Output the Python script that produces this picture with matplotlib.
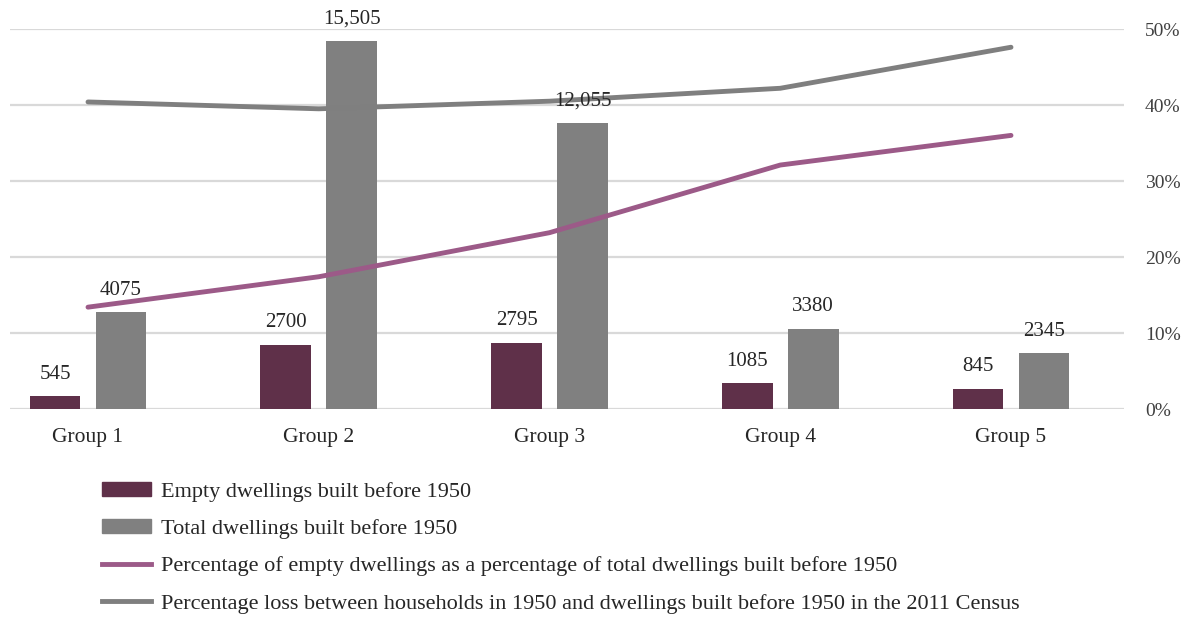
import matplotlib
matplotlib.use("Agg")
import matplotlib.pyplot as plt
from matplotlib.patches import Patch
from matplotlib.lines import Line2D
import numpy as np

plt.rcParams['font.family'] = ['Liberation Serif', 'DejaVu Serif']

groups = ["Group 1", "Group 2", "Group 3", "Group 4", "Group 5"]
empty = [545, 2700, 2795, 1085, 845]
total = [4075, 15505, 12055, 3380, 2345]
empty_labels = ["545", "2700", "2795", "1085", "845"]
total_labels = ["4075", "15,505", "12,055", "3380", "2345"]
pct_empty = [13.4, 17.4, 23.2, 32.1, 36.0]
pct_loss = [40.4, 39.5, 40.5, 42.2, 47.6]
pct_ticks = [0, 10, 20, 30, 40, 50]

c_empty = "#5f3049"
c_total = "#808080"
c_pink = "#9c5a88"
c_grayline = "#7f7f7f"
fs = 15.5
fs_num = 15

fig = plt.figure(figsize=(11.93, 6.2), dpi=100)
ax = fig.add_axes([10/1193, 1-409/620, (1124-10)/1193, 380/620])
x = np.arange(len(groups))
w = 0.22
off = 0.143
ax.set_ylim(0, 16000)
ax.set_yticks(np.linspace(0, 16000, 6))
ax.yaxis.grid(True, color="#d9d9d9", lw=1.6)
ax.set_axisbelow(True)
ax.tick_params(axis="y", length=0, labelleft=False)
ax.bar(x - off, empty, w, color=c_empty, zorder=2)
ax.bar(x + off, total, w, color=c_total, zorder=2)
ax.set_xlim(-78/230.75, (1124-88)/230.75)
ax.set_xticks(x)
ax.set_xticklabels(groups, fontsize=fs, color="#262626")
ax.tick_params(axis="x", length=0, pad=14)
for s in ax.spines.values():
    s.set_visible(False)

ax2 = ax.twinx()
ax2.set_ylim(0, 50)
ax2.set_yticks(pct_ticks)
ax2.set_yticklabels([f"{t}%" for t in pct_ticks], fontsize=14, color="#404040")
ax2.tick_params(axis="y", length=0, pad=15)
for s in ax2.spines.values():
    s.set_visible(False)
ax2.plot(x, pct_empty, color=c_pink, lw=3.5, solid_capstyle="round", zorder=3)
ax2.plot(x, pct_loss, color=c_grayline, lw=3.5, solid_capstyle="round", zorder=3)

for xi, v, t in zip(x, empty, empty_labels):
    ax2.annotate(t, (xi - off, v), xycoords=ax.transData, xytext=(0, 9),
                 textcoords="offset points", ha="center", va="bottom",
                 fontsize=fs_num, color="#262626", zorder=5)
for xi, v, t in zip(x, total, total_labels):
    ax2.annotate(t, (xi + off, v), xycoords=ax.transData, xytext=(0, 9),
                 textcoords="offset points", ha="center", va="bottom",
                 fontsize=fs_num, color="#262626", zorder=5)

handles = [Patch(color=c_empty), Patch(color=c_total),
           Line2D([], [], color=c_pink, lw=3.5), Line2D([], [], color=c_grayline, lw=3.5)]
labels = ["Empty dwellings built before 1950",
          "Total dwellings built before 1950",
          "Percentage of empty dwellings as a percentage of total dwellings built before 1950",
          "Percentage loss between households in 1950 and dwellings built before 1950 in the 2011 Census"]
fig.legend(handles, labels, loc="upper left", bbox_to_anchor=(82/1193, 1-462/620),
           frameon=False, fontsize=16, handlelength=2.2, handleheight=0.6,
           handletextpad=0.45, labelspacing=0.78, labelcolor="#262626")

fig.savefig("out.png", dpi=100)
